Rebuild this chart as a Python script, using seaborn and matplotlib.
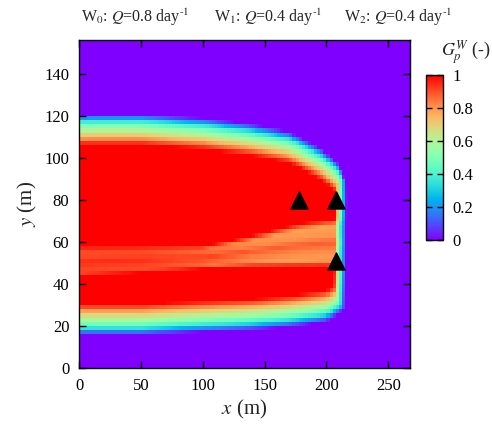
import numpy as np
import pandas as pd
import matplotlib
matplotlib.use("Agg")
import matplotlib.pyplot as plt
import seaborn as sns

# ---------------- data ----------------
DX, DY = 2.5, 2.0            # cell size (m)
X_MAX, Y_MAX = 267.5, 156.0  # domain extent (m)

# outer (G=0) plume boundary: top and bottom edges vs x
top_x = [0, 50, 100, 140, 170, 197, 210, 216]
top_y = [121, 121, 119, 116, 112.5, 104, 97, 88]
bot_x = [0, 50, 100, 140, 170, 200, 213]
bot_y = [15.5, 15.5, 17, 18, 19.5, 22, 27]
# plume front (G=0) vs y
front_y = [25, 50, 80, 95]
front_x = [214.5, 216, 216.5, 216]

# G profile vs inward distance from lateral edges and from front
edge_d = [0, 1.5, 3.5, 6, 9, 11, 13, 15]
edge_g = [0, 0.15, 0.35, 0.5, 0.65, 0.75, 0.88, 1.0]
front_d = [0, 2, 4, 6.5, 9.5]
front_g = [0, 0.2, 0.38, 0.6, 0.97]

# lighter band between the two injection zones
band_x = [0, 50, 100, 140, 180, 216]
band_lo = [43, 45, 47, 48, 48, 48]
band_hi = [58, 58, 58, 63, 69, 72]
band_min = [0.9, 0.9, 0.86, 0.80, 0.78, 0.78]
band_t = [0, 0.15, 0.35, 0.5, 0.65, 0.85, 1]
band_s = [0, 1, 0.8, 0.55, 0.9, 1, 0]

# wells
wells_x = [178, 208, 208]
wells_y = [80, 80, 51]

cbar_ticks = [0, 0.2, 0.4, 0.6, 0.8, 1]
cbar_labels = ["0", "0.2", "0.4", "0.6", "0.8", "1"]
x_ticks = [0, 50, 100, 150, 200, 250]
y_ticks = [0, 20, 40, 60, 80, 100, 120, 140]
titles = [r"W$_0$: $Q$=0.8 day$^{\text{-}1}$",
          r"W$_1$: $Q$=0.4 day$^{\text{-}1}$",
          r"W$_2$: $Q$=0.4 day$^{\text{-}1}$"]

# ---------------- build field ----------------
xc = np.arange(DX / 2, X_MAX, DX)
yc = np.arange(DY / 2, Y_MAX, DY)
XX, YY = np.meshgrid(xc, yc)

ytop = np.interp(XX, top_x, top_y)
ybot = np.interp(XX, bot_x, bot_y)
xf = np.interp(YY, front_y, front_x)
e_top = np.interp(ytop - YY, edge_d, edge_g, left=0, right=1)
e_bot = np.interp(YY - ybot, edge_d, edge_g, left=0, right=1)
e_fr = np.interp(xf - XX, front_d, front_g, left=0, right=1)
G = np.minimum(np.minimum(e_top, e_bot), e_fr)

lo = np.interp(XX, band_x, band_lo)
hi = np.interp(XX, band_x, band_hi)
bmin = np.interp(XX, band_x, band_min)
t = (YY - lo) / (hi - lo)
shape = np.interp(t, band_t, band_s, left=0, right=0)
G = G * (1 - (1 - bmin) * shape)

df = pd.DataFrame(G, index=yc, columns=xc)

# ---------------- plot ----------------
sns.set_style("ticks")
plt.rcParams["font.family"] = ["Liberation Serif", "DejaVu Serif"]
plt.rcParams["mathtext.fontset"] = "stix"

fig = plt.figure(figsize=(4.92, 4.30), dpi=100)
ax = fig.add_axes([79 / 492, 1 - 368 / 430, (410 - 79) / 492, (368 - 40) / 430])
cax = fig.add_axes([426 / 492, 1 - 240 / 430, 17 / 492, (240 - 75) / 430])

sns.heatmap(df, cmap="rainbow", vmin=0, vmax=1, ax=ax, cbar_ax=cax,
            xticklabels=False, yticklabels=False, rasterized=True)
ax.invert_yaxis()
ax.set_axisbelow(False)
cax.set_axisbelow(False)

ax.scatter(np.array(wells_x) / DX, np.array(wells_y) / DY, marker="^",
           s=150, color="black", zorder=5, clip_on=False)

for s in ax.spines.values():
    s.set_visible(True)
    s.set_color("black")
    s.set_linewidth(1.0)
ax.set_xticks(np.array(x_ticks) / DX)
ax.set_xticklabels([str(v) for v in x_ticks])
ax.set_yticks(np.array(y_ticks) / DY)
ax.set_yticklabels([str(v) for v in y_ticks])
ax.tick_params(direction="in", top=True, right=True, length=5, width=1,
               labelsize=12, colors="black", pad=7)
ax.tick_params(axis="y", rotation=0)
ax.set_xlabel(r"$x$ (m)", fontsize=15, labelpad=3)
ax.set_ylabel(r"$y$ (m)", fontsize=15, labelpad=4)

cb = ax.collections[0].colorbar
cb.outline.set_linewidth(1.0)
cb.outline.set_edgecolor("black")
cb.set_ticks(cbar_ticks)
cb.set_ticklabels(cbar_labels)
cax.tick_params(direction="in", left=True, right=True, length=4, width=1,
                labelsize=12, colors="black", pad=7)

fig.text(466 / 492, 1 - 52 / 430, r"$G_p^W$ (-)", fontsize=13,
         ha="center", va="center")
for xpos, txt in zip([135, 268, 398], titles):
    fig.text(xpos / 492, 1 - 17 / 430, txt, fontsize=11.5, ha="center",
             va="center")

fig.savefig("out.png", dpi=100)
